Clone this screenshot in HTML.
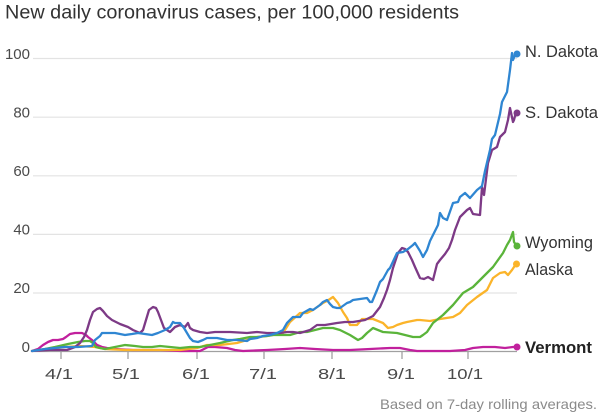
<!DOCTYPE html>
<html><head><meta charset="utf-8"><style>
html,body{margin:0;padding:0;background:#fff;}
svg{display:block;}
text{font-family:"Liberation Sans",sans-serif;}
</style></head><body>
<svg width="600" height="414" viewBox="0 0 600 414" xmlns="http://www.w3.org/2000/svg">
<text x="5" y="18.5" font-size="19" fill="#333" textLength="454" lengthAdjust="spacingAndGlyphs">New daily coronavirus cases, per 100,000 residents</text>
<g stroke="#e3e3e3" stroke-width="1.2">
<line x1="33" y1="58.5" x2="517" y2="58.5"/>
<line x1="33" y1="117.2" x2="517" y2="117.2"/>
<line x1="33" y1="175.8" x2="517" y2="175.8"/>
<line x1="33" y1="234.4" x2="517" y2="234.4"/>
<line x1="33" y1="293" x2="517" y2="293"/>
</g>
<g font-size="15" fill="#4a4a4a" text-anchor="end">
<text x="30" y="59">100</text>
<text x="30" y="117.5">80</text>
<text x="30" y="176">60</text>
<text x="30" y="234.5">40</text>
<text x="30" y="293">20</text>
<text x="30" y="352">0</text>
</g>
<line x1="33" y1="351.5" x2="517" y2="351.5" stroke="#a0a0a0" stroke-width="1.3"/>
<g stroke="#a0a0a0" stroke-width="1.3">
<line x1="61" y1="351.5" x2="61" y2="359"/>
<line x1="128" y1="351.5" x2="128" y2="359"/>
<line x1="197" y1="351.5" x2="197" y2="359"/>
<line x1="264" y1="351.5" x2="264" y2="359"/>
<line x1="332" y1="351.5" x2="332" y2="359"/>
<line x1="402" y1="351.5" x2="402" y2="359"/>
<line x1="468" y1="351.5" x2="468" y2="359"/>
</g>
<g font-size="15" fill="#4a4a4a" text-anchor="middle">
<text x="59" y="379" textLength="28" lengthAdjust="spacingAndGlyphs">4/1</text>
<text x="126" y="379" textLength="28" lengthAdjust="spacingAndGlyphs">5/1</text>
<text x="196" y="379" textLength="28" lengthAdjust="spacingAndGlyphs">6/1</text>
<text x="263" y="379" textLength="28" lengthAdjust="spacingAndGlyphs">7/1</text>
<text x="332" y="379" textLength="28" lengthAdjust="spacingAndGlyphs">8/1</text>
<text x="401" y="379" textLength="28" lengthAdjust="spacingAndGlyphs">9/1</text>
<text x="465" y="379" textLength="36" lengthAdjust="spacingAndGlyphs">10/1</text>
</g>
<g fill="none" stroke-width="2.3" stroke-linejoin="round" stroke-linecap="round">
<polyline stroke="#c1209d" points="32,351 38,349 43,345 48,342 53,340 58,340 63,339 66,337 70,334 75,333 82,333 86,335 88,337 92,340 97,345 102,347 107,348 115,349 133,350 160,350 180,351 200,351 204,349 208,347 215,347 227,348 235,350 243,351 267,350 285,349 300,348 315,349 333,350 350,350 370,349 390,348 400,348 410,350 417,351 435,351 450,351 465,350 473,348 483,347 495,347 505,348 513,347 517,347"/>
<polyline stroke="#fbb42a" points="32,351 50,349 65,347 80,346 95,347 105,349 125,350 150,350 180,350 197,348 207,345 220,345 237,343 247,340 257,337 267,336 273,335 283,333 290,322 300,313 307,313 313,310 320,305 323,303 327,301 333,297 338,303 343,312 347,318 350,325 357,325 362,319 373,319 383,323 388,328 393,327 397,325 403,323 407,322 417,320 420,320 430,321 440,319 453,317 460,313 467,305 477,297 487,290 493,278 500,273 505,272 508,275 512,270 516,264"/>
<polyline stroke="#5ab43a" points="32,351 45,349 55,347 68,344 78,342 85,341 90,341 93,343 96,347 100,348 105,349 115,347 125,345 135,346 143,347 152,347 160,346 170,347 180,348 190,347 200,347 210,345 220,343 233,340 240,339 250,337 257,337 267,336 273,335 283,335 290,335 300,332 307,332 315,330 323,328 333,328 340,330 350,335 358,340 362,338 367,333 373,328 383,332 397,333 413,337 420,337 423,335 427,332 433,323 443,315 453,305 463,293 473,287 483,277 493,267 503,253 507,245 510,240 513,232 514,242 516,245"/>
<polyline stroke="#7d3a86" points="32,351 50,350 67,350 75,347 80,343 84,337 87,330 90,320 93,312 97,309 100,308 103,311 107,316 112,320 120,324 128,327 133,330 140,333 143,330 146,320 149,310 153,307 156,308 158,312 161,320 164,328 170,332 175,327 180,325 185,327 188,323 190,328 193,330 200,332 207,333 215,332 230,332 247,333 257,332 267,333 280,333 287,332 293,332 300,333 310,330 317,325 325,325 337,323 345,322 353,322 365,320 373,316 380,307 384,298 387,290 390,280 393,268 398,253 402,248 405,249 408,252 412,260 415,267 420,278 424,279 428,277 433,280 437,264 440,260 445,254 449,248 452,240 455,230 460,217 467,210 470,208 473,214 480,215 482,187 484,195 488,163 492,150 497,147 500,137 505,132 508,120 510,108 513,122 514,120 516,112 517,113"/>
<polyline stroke="#2f86d2" points="32,351 45,349 65,347 78,347 92,346 95,340 100,336 102,333 108,333 115,333 125,335 132,334 138,333 145,334 152,335 158,333 165,330 170,327 173,322 175,323 180,323 184,328 187,333 190,338 193,341 198,342 203,340 207,338 217,338 227,340 237,340 247,341 250,339 257,338 263,336 270,335 277,333 283,330 287,323 290,320 293,317 300,317 303,313 310,309 313,310 320,305 323,302 327,300 330,304 333,307 337,308 340,308 347,303 350,302 353,300 360,299 367,298 370,302 372,302 377,290 380,282 383,279 388,270 390,268 397,253 403,252 408,249 413,245 415,243 420,251 423,257 427,250 430,241 435,231 438,225 440,213 443,218 447,220 453,203 458,202 460,197 465,193 470,198 477,190 482,186 485,171 490,150 492,139 495,135 500,114 502,102 507,92 510,70 512,53 513,60 515,55 517,54"/>
</g>
<circle cx="517" cy="54" r="3.5" fill="#2f86d2"/>
<circle cx="517" cy="113" r="3.5" fill="#7d3a86"/>
<circle cx="517" cy="246" r="3.5" fill="#5ab43a"/>
<circle cx="516.5" cy="264" r="3.5" fill="#fbb42a"/>
<circle cx="517" cy="347" r="3.5" fill="#c1209d"/>
<g font-size="17" fill="#333">
<text x="525" y="57" textLength="73" lengthAdjust="spacingAndGlyphs">N. Dakota</text>
<text x="525" y="118" textLength="73" lengthAdjust="spacingAndGlyphs">S. Dakota</text>
<text x="525" y="248" textLength="68" lengthAdjust="spacingAndGlyphs">Wyoming</text>
<text x="525" y="275" textLength="48" lengthAdjust="spacingAndGlyphs">Alaska</text>
<text x="525" y="353" font-weight="bold" fill="#222" textLength="67" lengthAdjust="spacingAndGlyphs">Vermont</text>
</g>
<text x="597" y="409" font-size="14" fill="#8a8a8a" text-anchor="end" textLength="217" lengthAdjust="spacingAndGlyphs">Based on 7-day rolling averages.</text>
</svg>
</body></html>
